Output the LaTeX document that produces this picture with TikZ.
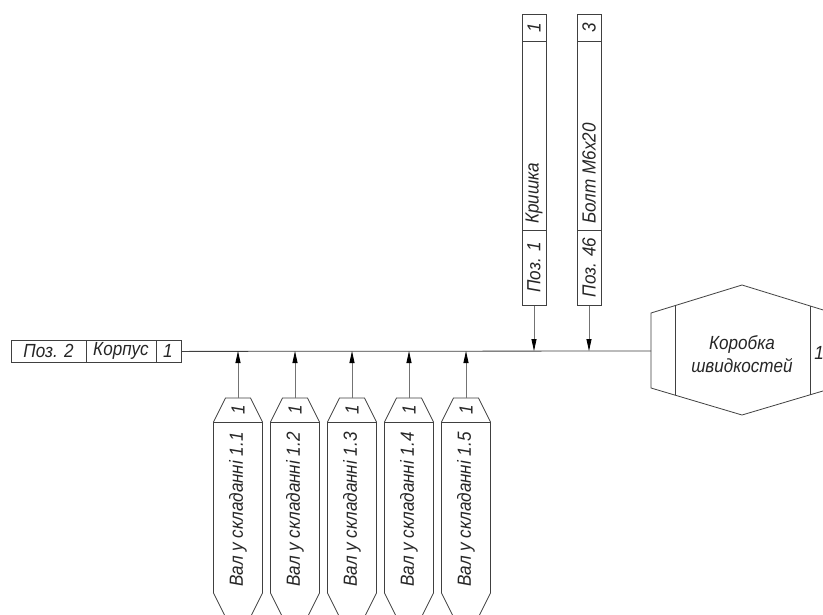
\documentclass[tikz,border=0pt]{standalone}
\usepackage{fontspec}
\setmainfont{Liberation Sans}[FakeStretch=0.9]
\usetikzlibrary{arrows.meta}
\begin{document}
\begin{tikzpicture}[x=1pt,y=-1pt,line width=0.8pt,
  ln/.style={draw=black!75},
  arr/.style={draw=black!55,-{Stealth[length=12pt,width=5pt,inset=0pt,color=black]}},
  lbl/.style={font=\fontsize{19}{23}\selectfont\itshape,inner sep=0pt,text=black!85},
  vlbl/.style={lbl,rotate=90},
  cellbox/.style={ln,draw,inner sep=0pt}]
\useasboundingbox (0,0) rectangle (823,614);
\clip (0,0) rectangle (823,614);
\fill[white] (0,0) rectangle (823,614);

% left box
\node[cellbox,minimum width=170pt,minimum height=22pt,anchor=north west] (kbox) at (11,340) {};
\draw[ln] (86,340) -- (86,362);
\draw[ln] (156,340) -- (156,362);
\node[lbl] (kpos) at (48.5,351) {Поз. 2};
\node[lbl] (kname) at (121,351) {Корпус};
\node[lbl] (kqty) at (168,351) {1};

% hexagon
\coordinate (hL) at (651,351);
\draw[ln] (651,313) -- (742,285) -- (833,313) -- (833,388) -- (742,415) -- (651,388) -- cycle;
\draw[ln] (675,305.6) -- (675,395.4);
\draw[ln] (810,305.9) -- (810,395.1);
\node[lbl,align=center] (hname) at (742,354) {Коробка\\швидкостей};
\node[lbl] (hqty) at (819,353) {1};

% main line
\draw[ln] (kbox.east) -- (hL);

% top boxes
\foreach \n/\cx/\pos/\nm/\q in {t1/534/Поз. 1/Кришка/1, t2/589/Поз. 46/Болт М6х20/3}{
  \node[cellbox,minimum width=24pt,minimum height=291pt,anchor=north] (\n) at (\cx,14) {};
  \draw[ln] (\cx-12,41) -- (\cx+12,41);
  \draw[ln] (\cx-12,230) -- (\cx+12,230);
  \node[vlbl] (\n q) at (\cx,27.5) {\q};
  \node[vlbl,anchor=west] (\n n) at (\cx,224) {\nm};
  \node[vlbl] (\n p) at (\cx,267.5) {\pos};
  \coordinate (\n j) at (\cx,351);
  \draw[arr] (\n.south) -- (\n j);
}

% bottom boxes
\foreach \i/\cx in {1/238,2/295,3/352,4/409,5/466}{
  \draw[ln] (\cx-12.5,398) -- (\cx+12.5,398) -- (\cx+24.5,422) -- (\cx+24.5,593)
    -- (\cx+12.5,617) -- (\cx-12.5,617) -- (\cx-24.5,593) -- (\cx-24.5,422) -- cycle;
  \draw[ln] (\cx-24.5,422) -- (\cx+24.5,422);
  \coordinate (b\i top) at (\cx,398);
  \coordinate (b\i j) at (\cx,351);
  \node[vlbl] (b\i q) at (\cx,410) {1};
  \node[vlbl,anchor=west] (b\i n) at (\cx,587) {Вал у складанні 1.\i};
  \draw[arr] (b\i top) -- (b\i j);
}
\end{tikzpicture}
\end{document}
